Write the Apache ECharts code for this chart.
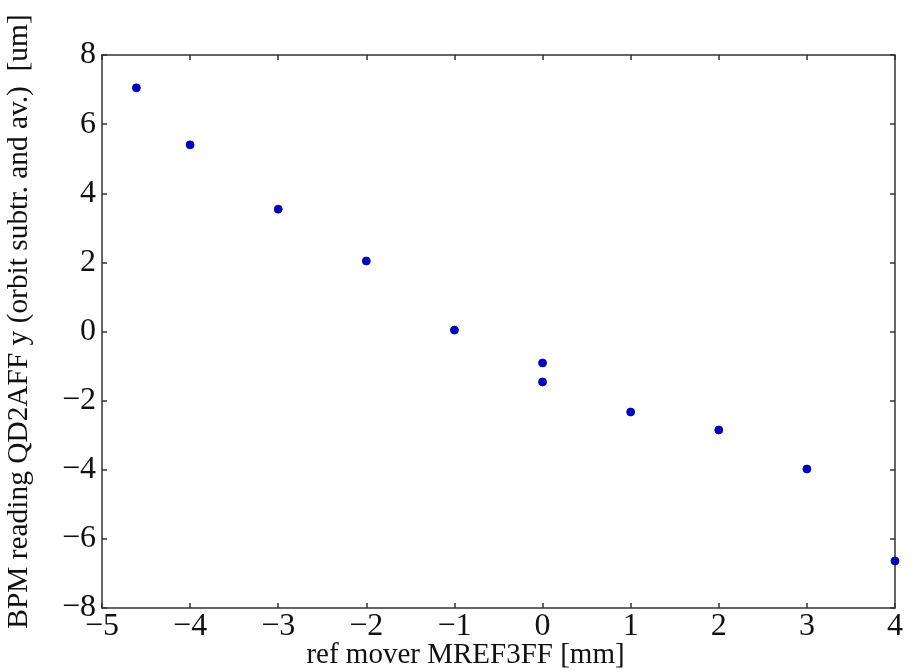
<!DOCTYPE html>
<html><head><meta charset="utf-8">
<script src="https://cdn.jsdelivr.net/npm/echarts@6/dist/echarts.min.js"></script>
<style>html,body{margin:0;padding:0;background:#fff}#c{width:918px;height:672px}</style>
</head><body><div id="c"></div>
<script>
const moverPos = [-4.61, -4, -3, -2, -1, 0, 0, 1, 2, 3, 4];
const bpmY = [7.05, 5.40, 3.54, 2.04, 0.04, -0.91, -1.46, -2.33, -2.85, -3.98, -6.64];
const xTitle = 'ref mover MREF3FF [mm]';
const yTitle = 'BPM reading QD2AFF y (orbit subtr. and av.)  [um]';

const font = '"Liberation Serif", "DejaVu Serif", serif';
const minus = v => String(v).replace('-', '\u2212');
const lineStyle = {color: '#333', width: 1.5};
const baseX = {type: 'value', min: -5, max: 4, interval: 1, splitLine: {show: false},
  axisLine: {show: true, onZero: false, lineStyle}, axisTick: {inside: true, length: 5, lineStyle}};
const baseY = {type: 'value', min: -8, max: 8, interval: 2, splitLine: {show: false},
  axisLine: {show: true, onZero: false, lineStyle}, axisTick: {inside: true, length: 5, lineStyle}};

const chart = echarts.init(document.getElementById('c'));
chart.setOption({
  backgroundColor: '#fff',
  animation: false,
  grid: {left: 102, right: 23, top: 55, bottom: 64, containLabel: false, outerBoundsMode: 'none'},
  xAxis: [
    Object.assign({}, baseX, {position: 'bottom', name: xTitle, nameLocation: 'middle', nameGap: 33,
      nameMoveOverlap: false,
      nameTextStyle: {fontFamily: font, fontSize: 29, color: '#111', padding: [0, 66, 0, 0]},
      axisLabel: {fontFamily: font, fontSize: 32, color: '#111', margin: 3, formatter: minus}}),
    Object.assign({}, baseX, {position: 'top', axisLabel: {show: false}})
  ],
  yAxis: [
    Object.assign({}, baseY, {position: 'left', name: yTitle, nameLocation: 'middle', nameGap: 68,
      nameMoveOverlap: false,
      nameTextStyle: {fontFamily: font, fontSize: 29.4, color: '#111', padding: [0, 0, 0, 20]},
      axisLabel: {fontFamily: font, fontSize: 32, color: '#111', margin: 6, formatter: minus}}),
    Object.assign({}, baseY, {position: 'right', axisLabel: {show: false}})
  ],
  series: [{
    type: 'scatter',
    data: moverPos.map((x, i) => [x, bpmY[i]]),
    symbolSize: 8,
    itemStyle: {color: '#0000cc', opacity: 1, borderColor: '#000080', borderWidth: 0.8}
  }]
});
</script></body></html>
